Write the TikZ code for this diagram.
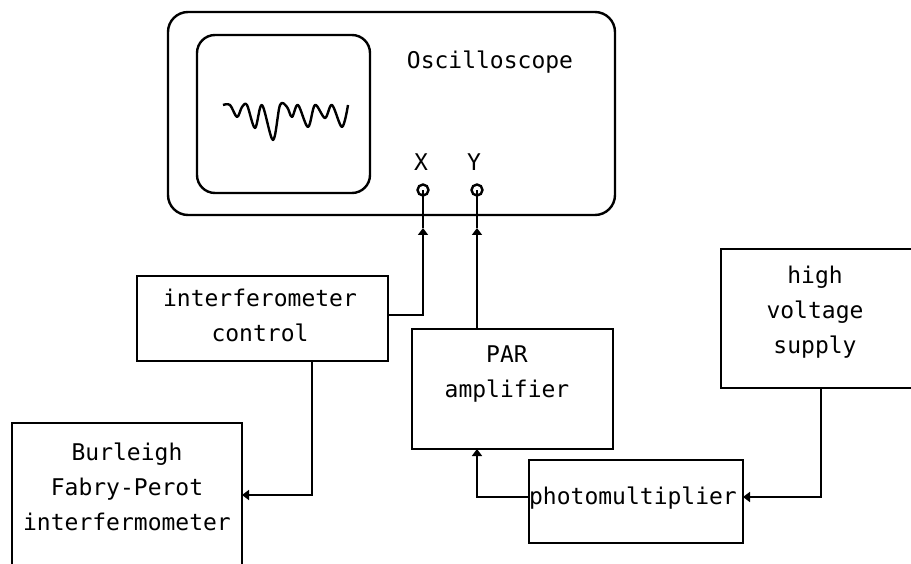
\documentclass[tikz,border=0pt]{standalone}
\usepackage{fontspec}
\newfontfamily\monofam{DejaVu Sans Mono}
\usetikzlibrary{arrows.meta}
\begin{document}
\begin{tikzpicture}[x=1pt,y=-1pt,
  wire/.style={line width=2.4pt},
  arr/.style={wire,-{Triangle[length=7pt,width=10pt]}},
  box/.style={draw,line width=2.4pt,anchor=north west,inner sep=0pt,outer sep=0pt},
  lbl/.style={font=\monofam\fontsize{23}{35}\selectfont,align=center,inner sep=0pt},
  port/.style={circle,draw,line width=2.4pt,minimum size=11pt,inner sep=0pt},
]
\clip (0,0) rectangle (911,564);
% oscilloscope
\node[box,rounded corners=20pt,minimum width=447pt,minimum height=203pt] (osc) at (168,12) {};
\node[box,rounded corners=18pt,minimum width=173pt,minimum height=158pt] (scr) at (197,35) {};
\node[lbl] (osctxt) at (490,62) {Oscilloscope};
\node[lbl] (xl) at (421,162) {X};
\node[lbl] (yl) at (474,162) {Y};
\node[port] (xin) at (423,190) {};
\node[port] (yin) at (477,190) {};
\draw[line width=2.4pt,line join=round] plot[smooth,tension=0.55] coordinates {
 (223,105) (230,105) (237,117) (242,107) (247,105) (255,128) (262,105)
 (273,140) (280,105) (287,107) (292,117) (298,105) (308,127) (315,105)
 (325,118) (332,105) (342,127) (348,105)};
% boxes
\node[box,minimum width=251pt,minimum height=85pt] (ctl) at (137,276) {};
\node[lbl] (ctltxt) at (260,315) {interferometer\\control};
\node[box,minimum width=230pt,minimum height=170pt] (bur) at (12,423) {};
\node[lbl] (burtxt) at (127,487) {Burleigh\\Fabry-Perot\\interfermometer};
\node[box,minimum width=201pt,minimum height=120pt] (par) at (412,329) {};
\node[lbl] (partxt) at (507,374) {PAR\\amplifier};
\node[box,minimum width=230pt,minimum height=139pt] (hv) at (721,249) {};
\node[lbl] (hvtxt) at (815,312) {high\\voltage\\supply};
\node[box,minimum width=214pt,minimum height=83pt] (pm) at (529,460) {};
\node[lbl] (pmtxt) at (633,498) {photomultiplier};
% wire coordinates
\coordinate (xa) at (423,228);
\coordinate (ya) at (477,228);
\coordinate (c1) at (312,495);
\coordinate (h1) at (821,497);
\coordinate (p1) at (477,497);
\coordinate (x1) at (423,315);
% connectors
\draw[arr] (ctl.east |- x1) -| (xa);
\draw[wire] (xa) -- (xin.center);
\draw[arr] (par.north -| ya) -- (ya);
\draw[wire] (ya) -- (yin.center);
\draw[arr] (ctl.south -| c1) |- (bur.east |- c1);
\draw[arr] (hv.south -| h1) |- (pm.east |- h1);
\draw[arr] (pm.west |- p1) -| (par.south -| p1);
\end{tikzpicture}
\end{document}
